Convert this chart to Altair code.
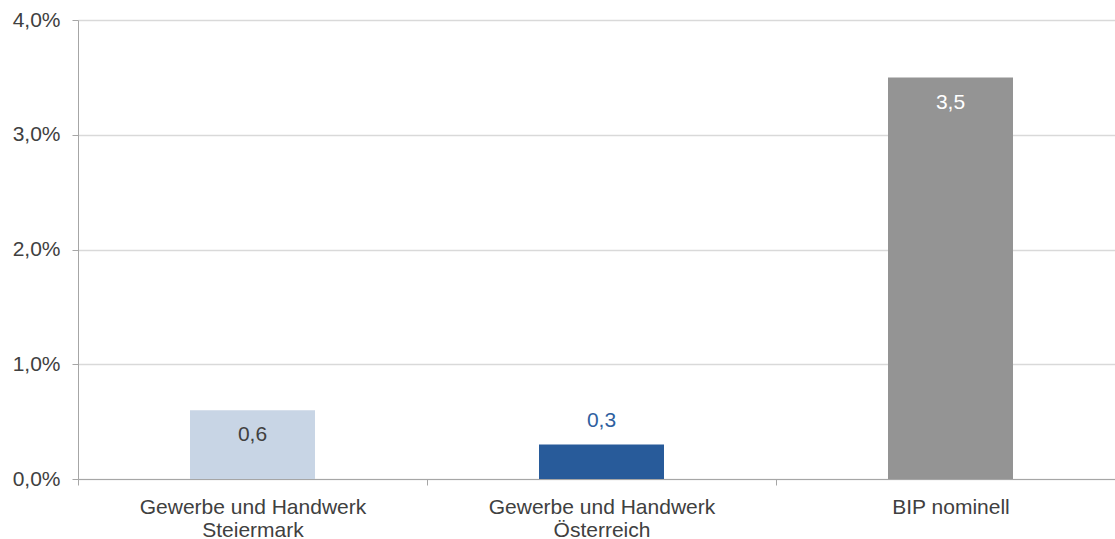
import altair as alt
import pandas as pd

# Growth rates in percent
categories = ["Gewerbe und Handwerk|Steiermark", "Gewerbe und Handwerk|Österreich", "BIP nominell"]
values = [0.6, 0.3, 3.5]
bar_colors = ["#C8D5E5", "#285B9A", "#949494"]
label_colors = ["#404040", "#2F5F9F", "#FFFFFF"]
label_dy = [25, -24, 26]

df = pd.DataFrame({"cat": categories, "value": values, "color": bar_colors})

FONT = "Liberation Sans"
TEXT = "#404040"

x = alt.X(
    "cat:N",
    sort=categories,
    title=None,
    scale=alt.Scale(paddingInner=0, paddingOuter=0, range=[0, 1047]),
    axis=alt.Axis(
        labelAngle=0,
        labelExpr="split(datum.label, '|')",
        labelLineHeight=23,
        labelPadding=11,
        labelLimit=0,
        tickBand="extent",
        tickSize=6,
        tickColor="#A6A6A6",
        domainColor="#A6A6A6",
        labelFontSize=21,
        labelColor=TEXT,
        labelFont=FONT,
        grid=False,
    ),
)

y = alt.Y(
    "value:Q",
    title=None,
    scale=alt.Scale(domain=[0, 4], nice=False),
    axis=alt.Axis(
        values=[0, 1, 2, 3, 4],
        labelExpr="replace(format(datum.value, '.1f'), '.', ',') + '%'",
        labelFontSize=21,
        labelColor=TEXT,
        labelFont=FONT,
        labelPadding=12,
        labelLimit=0,
        tickSize=6,
        tickColor="#A6A6A6",
        domainColor="#A6A6A6",
        gridColor="#D9D9D9",
        gridWidth=1.5,
    ),
)

base = alt.Chart(df)

bars = base.mark_bar(width=125).encode(
    x=x,
    y=y,
    color=alt.Color("color:N", scale=None),
)

layers = [bars]
for cat, lc, dy in zip(categories, label_colors, label_dy):
    layers.append(
        base.transform_filter(alt.datum.cat == cat)
        .mark_text(fontSize=21, font=FONT, color=lc, dy=dy, baseline="middle")
        .encode(
            x=alt.X("cat:N", sort=categories),
            y=alt.Y("value:Q"),
            text=alt.Text("lbl:N"),
        )
        .transform_calculate(lbl="replace(format(datum.value, '.1f'), '.', ',')")
    )

chart = (
    alt.layer(*layers)
    .properties(
        width=1037,
        height=459,
        autosize=alt.AutoSizeParams(type="none"),
        padding={"left": 78, "top": 20, "right": 0, "bottom": 60},
        background="white",
    )
    .configure_view(stroke=None)
)

chart.save("out.html", embed_options={"renderer": "svg", "actions": False})
